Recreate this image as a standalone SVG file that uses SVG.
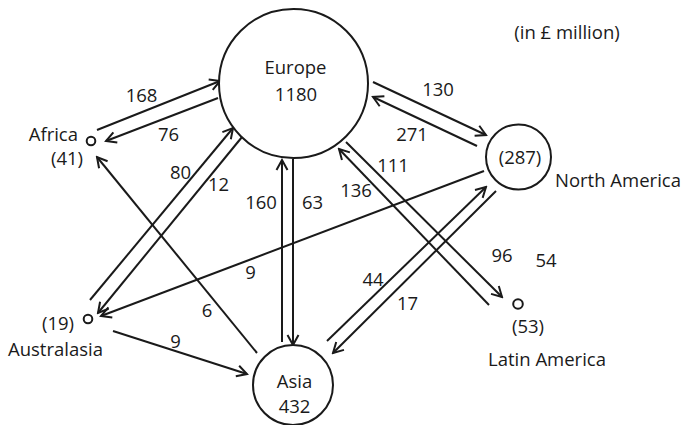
<svg xmlns="http://www.w3.org/2000/svg" width="687" height="425" viewBox="0 0 687 425">
<style>
text{font-family:"Open Sans","Noto Sans","Liberation Sans",sans-serif;font-size:18.5px;fill:#1a1a1a}
.m{text-anchor:middle}
.e{text-anchor:end}
.node{fill:#fff;stroke:#1a1a1a;stroke-width:2}
.ln{fill:none;stroke:#1a1a1a;stroke-width:2}
.ar{marker-end:url(#ah)}
</style>
<defs>
<marker id="ah" viewBox="-13 -8 15 16" markerWidth="15" markerHeight="16" refX="0" refY="0" orient="auto" markerUnits="userSpaceOnUse">
<path d="M-10,-5.5 L0,0 L-10,5.5" fill="none" stroke="#1a1a1a" stroke-width="2"/>
</marker>
</defs>
<rect width="687" height="425" fill="#fff"/>
<g id="connectors">
<line class="ln ar" x1="97" y1="130" x2="220" y2="81"/>
<line class="ln ar" x1="218" y1="98" x2="106" y2="141"/>
<line class="ln ar" x1="90" y1="300" x2="233" y2="128"/>
<line class="ln ar" x1="242" y1="137" x2="98" y2="313"/>
<line class="ln ar" x1="257" y1="353" x2="97" y2="157"/>
<line class="ln ar" x1="113" y1="331" x2="247" y2="374"/>
<line class="ln ar" x1="484" y1="171" x2="101" y2="316"/>
<line class="ln ar" x1="282" y1="342" x2="282" y2="160"/>
<line class="ln ar" x1="293" y1="159" x2="293" y2="345"/>
<line class="ln ar" x1="373" y1="82" x2="486" y2="135"/>
<line class="ln ar" x1="477" y1="146" x2="373" y2="97"/>
<line class="ln ar" x1="346" y1="142" x2="502" y2="297"/>
<line class="ln ar" x1="489" y1="305" x2="339" y2="149"/>
<line class="ln ar" x1="327" y1="341" x2="486" y2="187"/>
<line class="ln ar" x1="496" y1="191" x2="333" y2="353"/>
</g>
<g id="edge-labels">
<text class="m" x="141.5" y="102">168</text>
<text class="m" x="168.5" y="141">76</text>
<text class="m" x="180.5" y="179">80</text>
<text class="m" x="218.5" y="191">12</text>
<text class="m" x="207" y="317">6</text>
<text class="m" x="175.5" y="348">9</text>
<text class="m" x="250.5" y="279">9</text>
<text class="m" x="261" y="209">160</text>
<text class="m" x="312.5" y="209">63</text>
<text class="m" x="438" y="96">130</text>
<text class="m" x="412" y="141">271</text>
<text class="m" x="393" y="172">111</text>
<text class="m" x="356" y="197">136</text>
<text class="m" x="373" y="286">44</text>
<text class="m" x="407.5" y="310">17</text>
<text class="m" x="502" y="262">96</text>
<text class="m" x="546" y="267">54</text>
</g>
<g id="europe">
<circle class="node" cx="293.5" cy="83.5" r="74.5"/>
<text class="m" x="295.5" y="74">Europe</text>
<text class="m" x="296" y="100.5">1180</text>
</g>
<g id="asia">
<circle class="node" cx="293" cy="385" r="40"/>
<text class="m" x="294.5" y="388">Asia</text>
<text class="m" x="294.5" y="413">432</text>
</g>
<g id="north-america">
<circle class="node" cx="518.5" cy="157" r="32.5"/>
<text class="m" x="520" y="164">(287)</text>
<text x="555" y="187">North America</text>
</g>
<g id="africa">
<circle class="node" cx="91" cy="141" r="4.3"/>
<text class="e" x="78" y="141">Africa</text>
<text class="m" x="67" y="165">(41)</text>
</g>
<g id="australasia">
<circle class="node" cx="88" cy="319" r="4.3"/>
<text class="m" x="58" y="330">(19)</text>
<text class="m" x="55.5" y="356">Australasia</text>
</g>
<g id="latin-america">
<circle class="node" cx="518" cy="304" r="4.8"/>
<text class="m" x="528" y="333">(53)</text>
<text class="m" x="547" y="366">Latin America</text>
</g>
<text class="m" x="567" y="39">(in £ million)</text>
</svg>
